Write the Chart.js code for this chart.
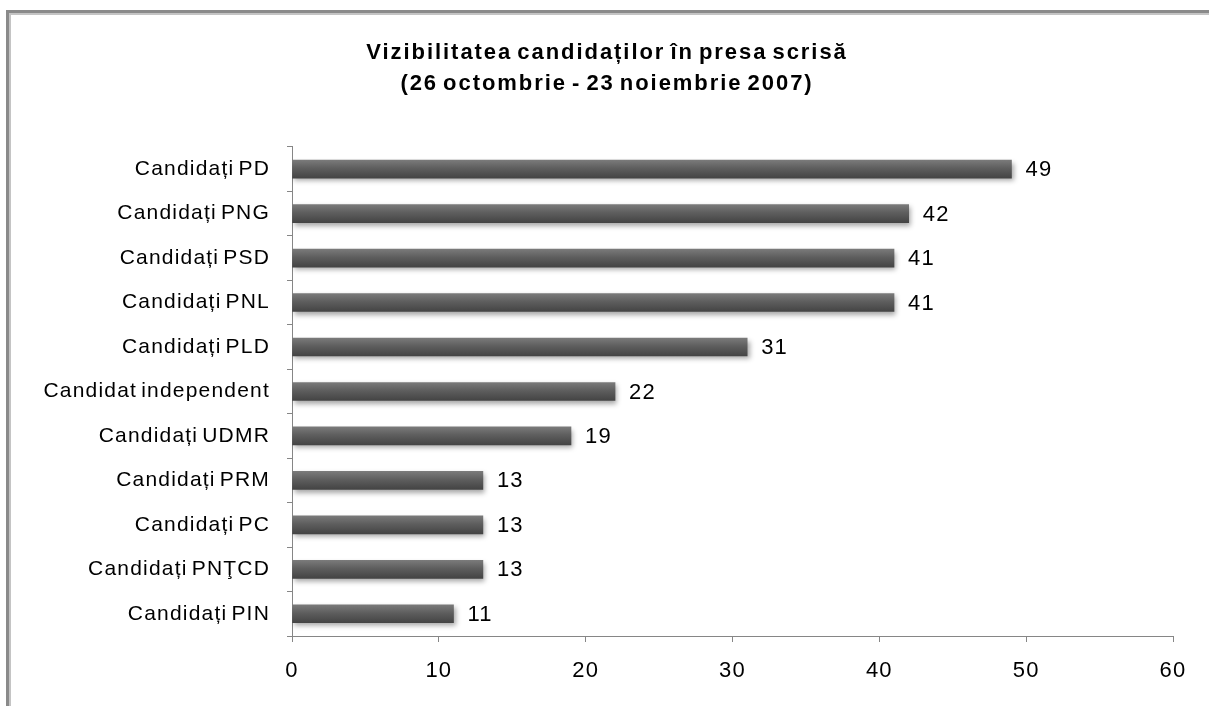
<!DOCTYPE html>
<html>
<head>
<meta charset="utf-8">
<script src="https://cdn.jsdelivr.net/npm/chart.js@4/dist/chart.umd.min.js"></script>
<style>
  html, body { margin: 0; padding: 0; background: #fff; }
  #wrap { position: relative; width: 1209px; height: 706px; }
</style>
</head>
<body>
<div id="wrap"><canvas id="chart"></canvas></div>
<script>
// categorii si valori (articole in presa scrisa)
const categories = [
    'Candidați PD', 'Candidați PNG', 'Candidați PSD', 'Candidați PNL', 'Candidați PLD',
    'Candidat independent', 'Candidați UDMR', 'Candidați PRM', 'Candidați PC',
    'Candidați PNŢCD', 'Candidați PIN'
];
const values = [49, 42, 41, 41, 31, 22, 19, 13, 13, 13, 11];
const titleLines = ['Vizibilitatea candidaților în presa scrisă', '(26 octombrie - 23 noiembrie 2007)'];

const FONT = '"Liberation Sans", Arial, sans-serif';
const AXIS_COLOR = '#868686';

// textul din original e putin "lat" -> letterSpacing pe tot canvasul
function wideText(ctx, ls) {
    ctx.letterSpacing = ls;
    ctx.wordSpacing = '-3px';
}

const spacingPlugin = {
    id: 'spacing',
    beforeLayout(chart) { wideText(chart.ctx, '1.2px'); },
    beforeDraw(chart) { wideText(chart.ctx, '1.2px'); },
    afterLayout(chart) {
        const tb = chart.titleBlock;
        if (tb && !tb._wide) {
            const orig = tb.draw.bind(tb);
            tb.draw = function () {
                const ctx = chart.ctx;
                const prev = ctx.letterSpacing;
                ctx.letterSpacing = '1.95px';
                orig();
                ctx.letterSpacing = prev;
            };
            tb._wide = true;
        }
    }
};

// rama gri din stanga/sus
const framePlugin = {
    id: 'frame',
    beforeDraw(chart) {
        const ctx = chart.ctx;
        ctx.save();
        ctx.fillStyle = '#fff';
        ctx.fillRect(0, 0, chart.width, chart.height);
        ctx.fillStyle = '#8a8a8a';
        ctx.fillRect(6, 10, 3, chart.height - 10);
        ctx.fillRect(6, 10, chart.width - 6, 3);
        ctx.fillStyle = '#c4c4c4';
        ctx.fillRect(9, 13, 2, chart.height - 13);
        ctx.fillRect(9, 13, chart.width - 9, 2);
        ctx.restore();
    }
};

// umbra sub bare
const shadowPlugin = {
    id: 'barShadow',
    beforeDatasetsDraw(chart) {
        const ctx = chart.ctx;
        ctx.save();
        ctx.shadowColor = 'rgba(0,0,0,0.35)';
        ctx.shadowBlur = 5;
        ctx.shadowOffsetX = 2;
        ctx.shadowOffsetY = 3;
    },
    afterDatasetsDraw(chart) {
        chart.ctx.restore();
    }
};

// etichete cu valoarea la capatul barei
const valueLabels = {
    id: 'valueLabels',
    afterDatasetsDraw(chart) {
        const ctx = chart.ctx;
        const meta = chart.getDatasetMeta(0);
        ctx.save();
        ctx.font = '22px ' + FONT;
        ctx.fillStyle = '#000';
        ctx.textAlign = 'left';
        ctx.textBaseline = 'middle';
        meta.data.forEach((bar, i) => {
            ctx.fillText(String(values[i]), bar.x + 14, bar.y + 1);
        });
        ctx.restore();
    }
};

function barGradient(context) {
    const chart = context.chart;
    const y = chart.scales.y;
    if (!y || !chart.chartArea) return '#5a5a5a';
    const cy = y.getPixelForValue(context.dataIndex);
    const g = chart.ctx.createLinearGradient(0, cy - 9, 0, cy + 9);
    g.addColorStop(0, '#7a7a7a');
    g.addColorStop(0.45, '#5e5e5e');
    g.addColorStop(1, '#444444');
    return g;
}

new Chart(document.getElementById('chart').getContext('2d'), {
    type: 'bar',
    data: {
        labels: categories,
        datasets: [{
            data: values,
            backgroundColor: barGradient,
            borderWidth: 0,
            barThickness: 18
        }]
    },
    options: {
        indexAxis: 'y',
        responsive: true,
        maintainAspectRatio: false,
        animation: false,
        layout: { padding: { left: 41, right: 36, top: 0, bottom: 0 } },
        plugins: {
            legend: { display: false },
            tooltip: { enabled: false },
            title: {
                display: true,
                text: titleLines,
                color: '#000',
                font: { family: FONT, size: 22, weight: 'bold', lineHeight: 1.43 },
                padding: { top: 37, bottom: 47 }
            }
        },
        scales: {
            x: {
                min: 0,
                max: 60,
                ticks: {
                    stepSize: 10,
                    color: '#000',
                    font: { family: FONT, size: 22 },
                    padding: 16
                },
                grid: {
                    drawOnChartArea: false,
                    drawTicks: true,
                    tickLength: 6,
                    color: AXIS_COLOR
                },
                border: { color: AXIS_COLOR, width: 1 },
                afterFit(scale) { scale.height = 70; }
            },
            y: {
                ticks: {
                    color: '#000',
                    font: { family: FONT, size: 21 },
                    padding: 17
                },
                grid: {
                    offset: true,
                    drawOnChartArea: false,
                    tickLength: 5,
                    color: AXIS_COLOR
                },
                border: { color: AXIS_COLOR, width: 1 },
                afterFit(scale) { scale.width = 251; }
            }
        }
    },
    plugins: [spacingPlugin, framePlugin, shadowPlugin, valueLabels]
});
</script>
</body>
</html>
